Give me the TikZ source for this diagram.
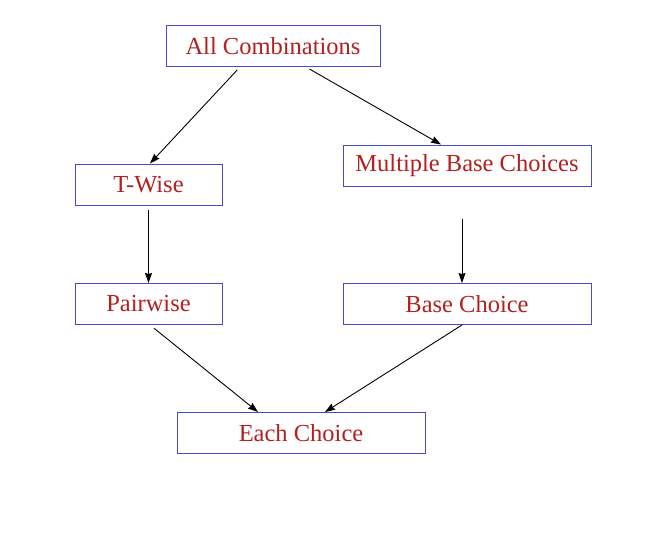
\documentclass[tikz,border=0pt]{standalone}
\usepackage{fontspec}
\setmainfont{Liberation Serif}
\usepackage{tikz}
\usetikzlibrary{positioning,arrows.meta,calc}
\usepackage{xcolor}
\definecolor{boxline}{RGB}{72,72,205}
\definecolor{boxtext}{RGB}{178,32,32}

\begin{document}
\begin{tikzpicture}[x=1pt,y=-1pt,
  every node/.style={font=\fontsize{24.5}{29}\selectfont},
  crit/.style={draw=boxline,line width=1pt,text=boxtext,inner sep=0pt,minimum height=41pt},
  arr/.style={-{Stealth[length=10pt,width=7pt,inset=1pt]},line width=0.9pt}]
\useasboundingbox (0,0) rectangle (652,544);
\node[crit,minimum width=214pt] (acoc) at (273,46) {All Combinations};
\node[crit,minimum width=147pt] (tw) at (148.5,184.5) {T-Wise};
\node[crit,minimum width=248pt] (mbcc) at (467,165.5) {Multiple Base Choices};
\node[crit,minimum width=147pt] (pw) at (148.5,304) {Pairwise};
\node[crit,minimum width=248pt] (bcc) at (467,304) {Base Choice};
\node[crit,minimum width=248pt] (ecc) at (301,433) {Each Choice};
% subsumption arrows
\draw[arr,shorten <=4pt] ([xshift=-33pt]acoc.south) -- ([xshift=1.5pt]tw.north);
\draw[arr,shorten <=4pt] ([xshift=33pt]acoc.south) -- ([xshift=-26pt]mbcc.north);
\draw[arr,shorten <=4pt] (tw.south) -- (pw.north);
\draw[arr,shorten <=32pt] ([xshift=-5pt]mbcc.south) -- ([xshift=-5pt]bcc.north);
\draw[arr,shorten <=5pt] ([xshift=1.5pt]pw.south) -- ([xshift=-43pt]ecc.north);
\draw[arr] ([xshift=-5pt]bcc.south) -- ([xshift=24pt]ecc.north);
\end{tikzpicture}
\end{document}
